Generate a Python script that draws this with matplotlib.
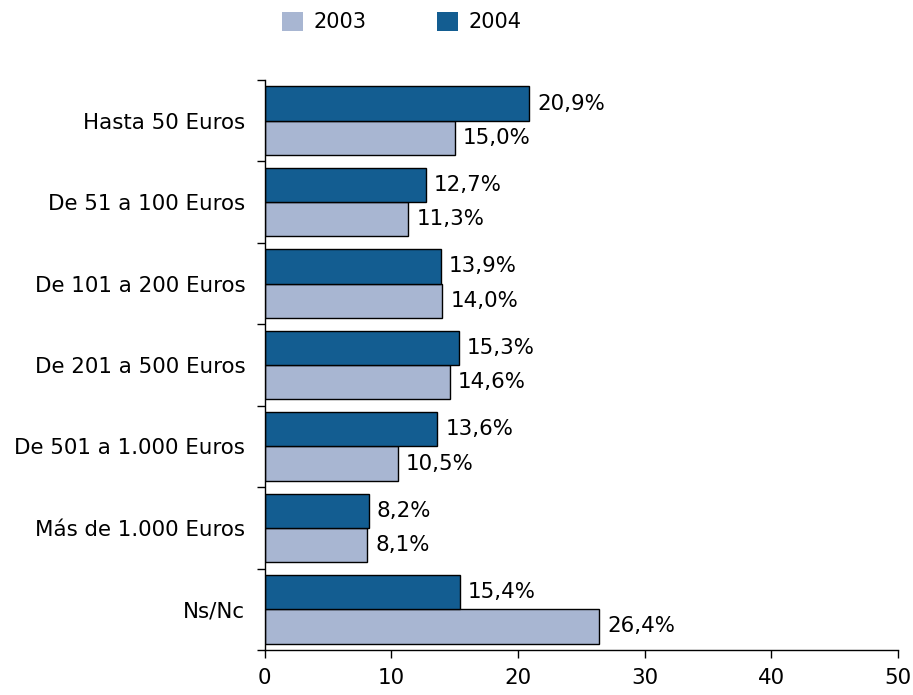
import numpy as np
import matplotlib.pyplot as plt

# Gasto por categoria, encuesta 2003 vs 2004
categories = ['Hasta 50 Euros', 'De 51 a 100 Euros', 'De 101 a 200 Euros',
              'De 201 a 500 Euros', 'De 501 a 1.000 Euros', 'Más de 1.000 Euros',
              'Ns/Nc']
values_2003 = [15.0, 11.3, 14.0, 14.6, 10.5, 8.1, 26.4]
values_2004 = [20.9, 12.7, 13.9, 15.3, 13.6, 8.2, 15.4]

color_2003 = '#a8b6d2'
color_2004 = '#135d91'
fs = 15.4

fig = plt.figure(figsize=(9.13, 6.95), dpi=100)
ax = fig.add_axes([0.290, 0.0647, 0.6935, 0.8203])

y = np.arange(len(categories))
h = 0.42
bars03 = ax.barh(y + h / 2, values_2003, height=h, color=color_2003,
                 edgecolor='black', linewidth=1.0, label='2003')
bars04 = ax.barh(y - h / 2, values_2004, height=h, color=color_2004,
                 edgecolor='black', linewidth=1.0, label='2004')

# etiquetas de valor con coma decimal
for bars, vals in ((bars03, values_2003), (bars04, values_2004)):
    for b, v in zip(bars, vals):
        ax.annotate(f'{v:.1f}%'.replace('.', ','),
                    (v, b.get_y() + b.get_height() / 2),
                    xytext=(6, 0), textcoords='offset points',
                    va='center', ha='left', fontsize=fs)

ax.set_xlim(0, 50)
ax.set_ylim(len(categories) - 0.5, -0.5)
ax.set_xticks(range(0, 51, 10))
ax.tick_params(axis='x', labelsize=fs, length=6, width=1, pad=7)

# etiquetas de categoria (minor) y ticks en los limites (major)
ax.set_yticks(np.arange(-0.5, len(categories), 1))
ax.set_yticklabels([])
ax.tick_params(axis='y', which='major', length=6, width=1)
ax.set_yticks(y, minor=True)
ax.set_yticklabels(categories, minor=True)
ax.tick_params(axis='y', which='minor', length=0, labelsize=fs, pad=14)

for s in ('top', 'right'):
    ax.spines[s].set_visible(False)
for s in ('left', 'bottom'):
    ax.spines[s].set_linewidth(1.0)

fig.legend(handles=[bars03, bars04], labels=['2003', '2004'], ncol=2,
           loc='center', bbox_to_anchor=(0.44, 0.968), frameon=False,
           fontsize=15, handlelength=1.0, handleheight=1.0,
           columnspacing=3.4, handletextpad=0.5)
for p in fig.legends[0].get_patches():
    p.set_edgecolor('none')

fig.savefig('out.png', dpi=100)
